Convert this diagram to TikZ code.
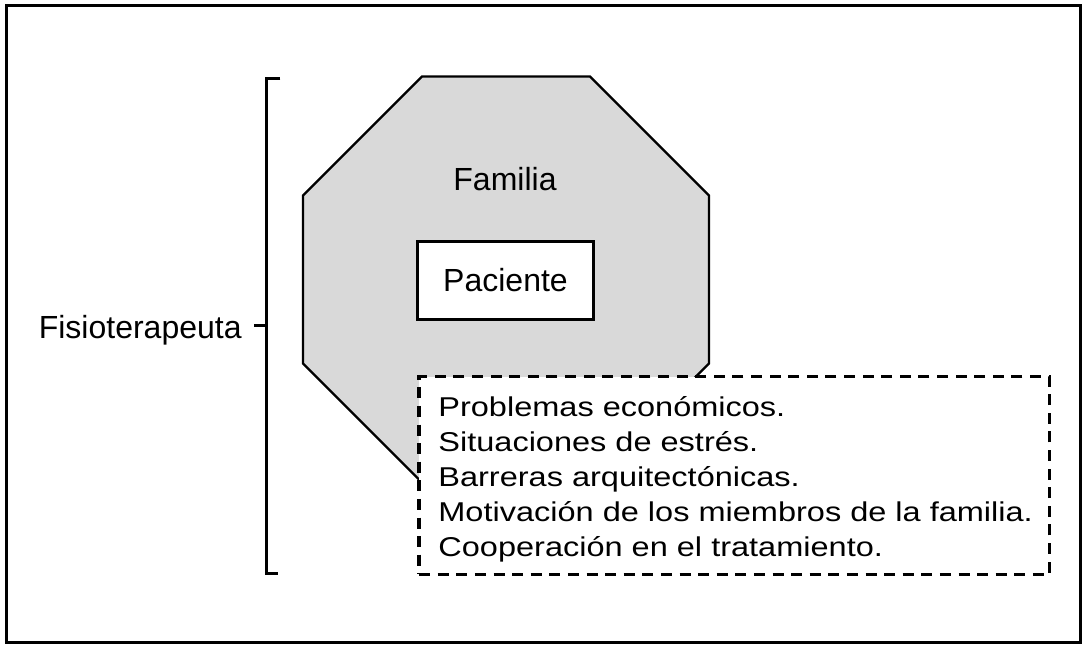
\documentclass[tikz,border=0pt]{standalone}
\usepackage{fontspec}
\setmainfont{Liberation Sans}
\usepackage{graphicx}
\definecolor{famgray}{RGB}{217,217,217}

\begin{document}
\begin{tikzpicture}[x=0.5pt, y=-0.5pt,
    lbl/.style={inner sep=0pt, font=\fontsize{16pt}{17.6pt}\selectfont},
    heavy/.style={line width=1.5pt}]
    \useasboundingbox (0,0) rectangle (1090,653);
    \draw[heavy] (6.5,5.5) rectangle (1080.8,642.8);

    % familia (octagon)
    \filldraw[fill=famgray, line width=1.1pt] (422,76.5) -- (590,76.5) -- (709,195.5) -- (709,363.5)
      -- (590,482.5) -- (422,482.5) -- (303,363.5) -- (303,195.5) -- cycle;
    \node (fam) at (505,179.5) [lbl] {Familia};
    \node (pac) at (505.5,280.5) [lbl, draw, fill=white, heavy, minimum width=88pt, minimum height=39pt] {Paciente};

    % factores
    \node (fact) at (734.4,475.5) [draw, fill=white, line width=1.7pt, dash pattern=on 5.5pt off 3.8pt,
      minimum width=315.3pt, minimum height=98.8pt] {};
    \foreach \txt [count=\i from 0] in {Problemas económicos., Situaciones de estrés.,
        Barreras arquitectónicas., Motivación de los miembros de la familia., Cooperación en el tratamiento.} {
      \node (f\i) at (438,{416+35.2*\i}) [lbl, anchor=base west] {\scalebox{1.016}[0.85]{\txt}};
    }

    % fisioterapeuta
    \coordinate (btop) at (266.3,78);
    \coordinate (bbot) at (266.3,573.7);
    \coordinate (bmid) at (266.3,325);
    \draw[heavy] ([xshift=7pt]btop) -- (btop) -- (bbot) -- ([xshift=6pt]bbot);
    \node (fisio) at (242,338) [lbl, anchor=base east] {Fisioterapeuta};
    \draw[heavy] (bmid) -- ++(-12,0);
\end{tikzpicture}
\end{document}
